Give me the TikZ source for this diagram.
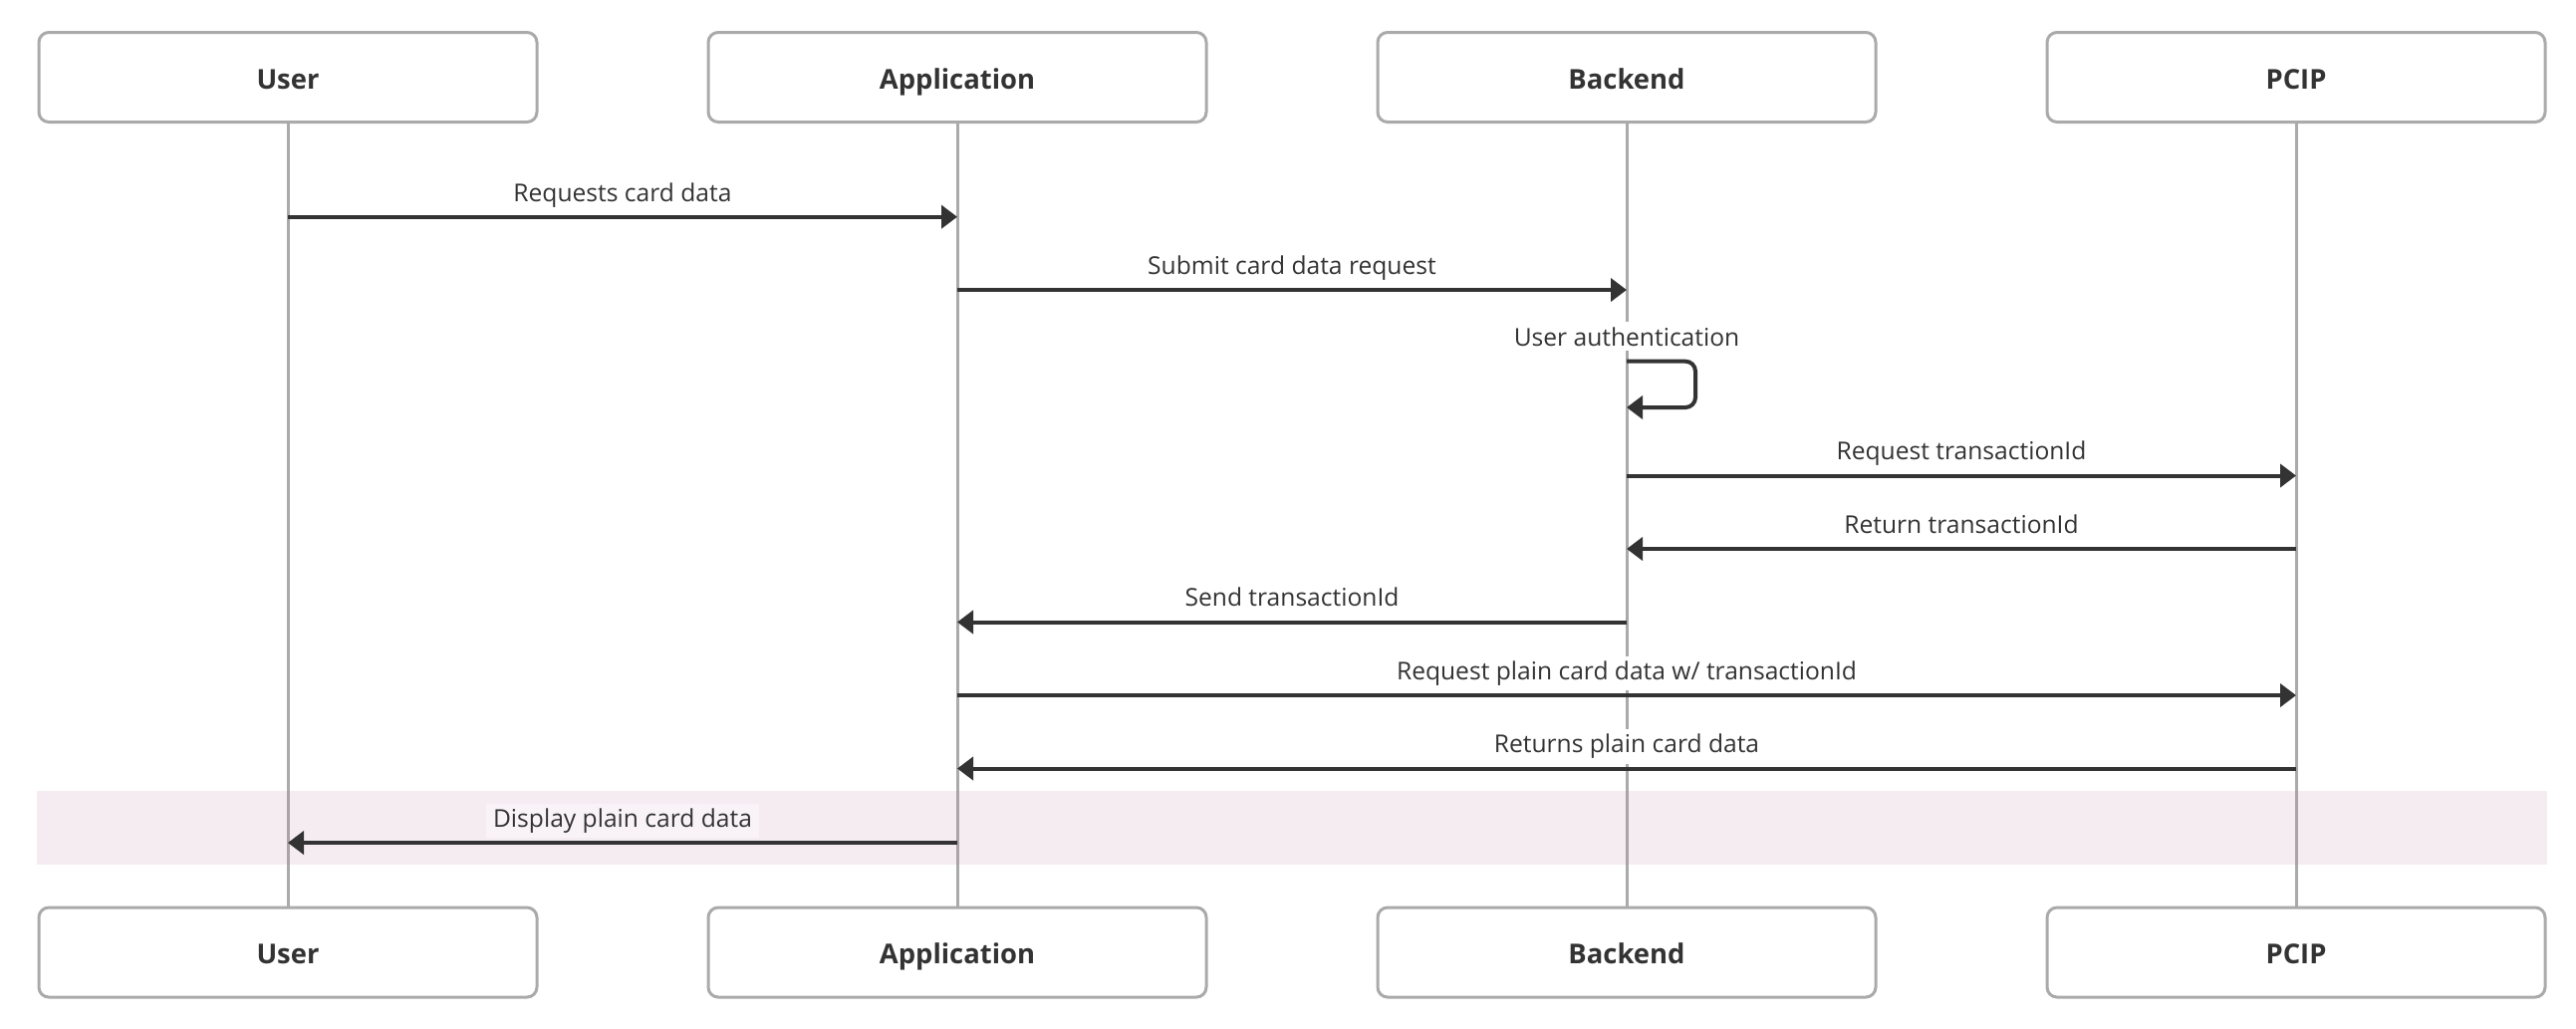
\documentclass[tikz,border=0pt]{standalone}
\usepackage{fontspec}
\setmainfont{Open Sans}
\usetikzlibrary{arrows.meta,positioning,calc}

\definecolor{boxgray}{HTML}{AAAAAA}
\definecolor{ink}{HTML}{333333}
\definecolor{bandpink}{RGB}{188,128,168}

\begin{document}
\begin{tikzpicture}[
  >={Triangle[length=0.16cm,width=0.23cm]},
  every node/.style={text=ink},
  actor/.style={rectangle, draw=boxgray, line width=0.03cm, rounded corners=0.1cm,
    minimum width=5cm, minimum height=0.9cm, inner sep=0pt,
    text height=0.25cm, text depth=0.02cm,
    font=\fontsize{7.8pt}{9pt}\selectfont\bfseries},
  life/.style={draw=boxgray, line width=0.03cm},
  msg/.style={->, draw=ink, line width=0.04cm},
  note/.style={anchor=base, yshift=0.157cm, fill=white, inner xsep=2pt, inner ysep=0.05cm,
    font=\fontsize{7pt}{8.4pt}\selectfont},
  lab/.style={midway, note}
]
\useasboundingbox (0,0) rectangle (25.86,-10.32);

% --- actors (absolute placement for fidelity) ---
\node[actor] (user)   at (2.89,-0.775)  {User};
\node[actor] (app)    at (9.61,-0.775)  {Application};
\node[actor] (back)   at (16.33,-0.775) {Backend};
\node[actor] (pcip)   at (23.05,-0.775) {PCIP};
\node[actor] (user-b) at (2.89,-9.56)   {User};
\node[actor] (app-b)  at (9.61,-9.56)   {Application};
\node[actor] (back-b) at (16.33,-9.56)  {Backend};
\node[actor] (pcip-b) at (23.05,-9.56)  {PCIP};

% --- lifelines ---
\foreach \a in {user,app,back,pcip}
  \draw[life] (\a.south) -- (\a-b.north);

% --- highlighted step ---
\fill[bandpink, fill opacity=0.15] (0.37,-7.94) rectangle (25.57,-8.675);

% --- message rows ---
\coordinate (r1)  at (0,-2.177);
\coordinate (r2)  at (0,-2.91);
\coordinate (r3a) at (0,-3.627);
\coordinate (r3b) at (0,-4.09);
\coordinate (r4)  at (0,-4.775);
\coordinate (r5)  at (0,-5.51);
\coordinate (r6)  at (0,-6.245);
\coordinate (r7)  at (0,-6.98);
\coordinate (r8)  at (0,-7.715);
\coordinate (r9)  at (0,-8.46);
\coordinate (loopR) at (17.02,0);

% --- messages ---
\draw[msg] (user |- r1) -- node[lab] {Requests card data} (app |- r1);
\draw[msg] (app |- r2) -- node[lab] {Submit card data request} (back |- r2);

% self call on Backend
\node[note] at (back |- r3a) {User authentication};
\draw[msg, rounded corners=0.1cm] (back |- r3a) -- (loopR |- r3a) -- (loopR |- r3b) -- (back |- r3b);

\draw[msg] (back |- r4) -- node[lab] {Request transactionId} (pcip |- r4);
\draw[msg] (pcip |- r5) -- node[lab] {Return transactionId} (back |- r5);
\draw[msg] (back |- r6) -- node[lab] {Send transactionId} (app |- r6);
\draw[msg] (app |- r7) -- node[lab] {Request plain card data w/ transactionId} (pcip |- r7);
\draw[msg] (pcip |- r8) -- node[lab] {Returns plain card data} (app |- r8);
\draw[msg] (app |- r9) -- node[lab, fill opacity=0.4, text opacity=1] {Display plain card data} (user |- r9);

\end{tikzpicture}
\end{document}
